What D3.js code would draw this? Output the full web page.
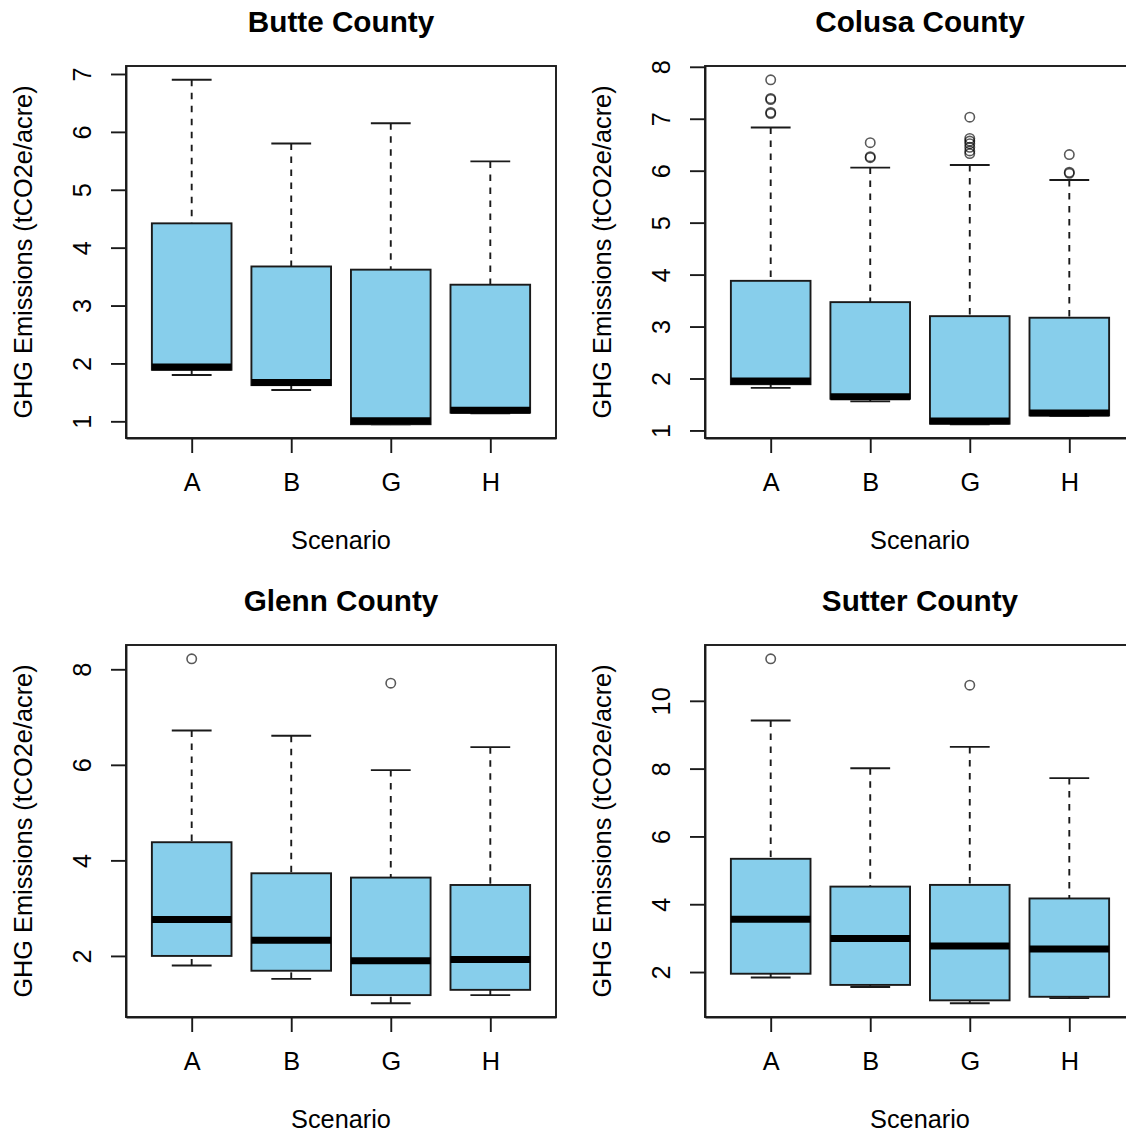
<!DOCTYPE html>
<html>
<head>
<meta charset="utf-8">
<script src="https://cdn.jsdelivr.net/npm/d3@7"></script>
<style>
  html, body { margin: 0; padding: 0; background: #fff; overflow: hidden; }
  svg { display: block; }
  text { font-family: "Liberation Sans", Arial, Helvetica, sans-serif; fill: #000; }
</style>
</head>
<body>
<svg id="chart" width="1126" height="1135"></svg>
<script>
// ---- data -------------------------------------------------------------
const scenarios = ["A", "B", "G", "H"];
const countyNames = ["Butte County", "Colusa County", "Glenn County", "Sutter County"];

// Box statistics per scenario: [lower whisker, lower hinge, median, upper hinge, upper whisker]
const butteStats = [
  [1.80, 1.89, 1.94, 4.42, 6.90],
  [1.54, 1.625, 1.67, 3.675, 5.80],
  [0.95, 0.95, 1.01, 3.62, 6.15],
  [1.14, 1.15, 1.19, 3.36, 5.49]
];
const butteOutliers = [[], [], [], []];
const butteTicks = [1, 2, 3, 4, 5, 6, 7];

const colusaStats = [
  [1.82, 1.89, 1.95, 3.88, 6.83],
  [1.56, 1.61, 1.65, 3.47, 6.06],
  [1.12, 1.13, 1.18, 3.20, 6.11],
  [1.28, 1.29, 1.335, 3.17, 5.82]
];
const colusaOutliers = [
  [7.75, 7.39, 7.37, 7.12, 7.10],
  [6.54, 6.27, 6.25],
  [7.03, 6.62, 6.57, 6.52, 6.45, 6.38, 6.33],
  [6.31, 5.97, 5.95]
];
const colusaTicks = [1, 2, 3, 4, 5, 6, 7, 8];

const glennStats = [
  [1.80, 2.00, 2.76, 4.38, 6.72],
  [1.52, 1.69, 2.33, 3.73, 6.61],
  [1.01, 1.18, 1.90, 3.64, 5.89],
  [1.18, 1.29, 1.925, 3.485, 6.37]
];
const glennOutliers = [[8.22], [], [7.71], []];
const glennTicks = [2, 4, 6, 8];

const sutterStats = [
  [1.84, 1.95, 3.56, 5.34, 9.42],
  [1.56, 1.62, 2.99, 4.52, 8.01],
  [1.08, 1.165, 2.77, 4.57, 8.64],
  [1.23, 1.27, 2.68, 4.17, 7.72]
];
const sutterOutliers = [[11.24], [], [10.46], []];
const sutterTicks = [2, 4, 6, 8, 10];

const yLabel = "GHG Emissions (tCO2e/acre)";
const xLabel = "Scenario";

const panels = [
  { title: countyNames[0], stats: butteStats,  outliers: butteOutliers,  ticks: butteTicks },
  { title: countyNames[1], stats: colusaStats, outliers: colusaOutliers, ticks: colusaTicks },
  { title: countyNames[2], stats: glennStats,  outliers: glennOutliers,  ticks: glennTicks },
  { title: countyNames[3], stats: sutterStats, outliers: sutterOutliers, ticks: sutterTicks }
];

// ---- layout -----------------------------------------------------------
const cellW = 579, cellH = 579;
const plot = { left: 126, right: 556, top: 66, bottom: 438 };
const cx = (plot.left + plot.right) / 2;
const cy = (plot.top + plot.bottom) / 2;
const ink = "#1a1a1a";
const boxFill = "#87CEEB";
const baseFont = 25.3;
const lineW = 1.9;

const svg = d3.select("#chart");

panels.forEach((p, i) => {
  const col = i % 2, row = Math.floor(i / 2);
  const g = svg.append("g").attr("transform", `translate(${col * cellW},${row * cellH})`);

  // x: one slot per scenario, padded like a base-graphics boxplot
  const x = d3.scalePoint().domain(scenarios).range([plot.left, plot.right]).padding(0.66);
  const step = x.step();
  const boxW = 0.8 * step;
  const capW = 0.4 * step;

  // y: data range (boxes + outliers) stretched by 4% each side
  const allVals = p.stats.flat().concat(p.outliers.flat());
  const lo = d3.min(allVals), hi = d3.max(allVals);
  const pad = 0.04 * (hi - lo);
  const y = d3.scaleLinear().domain([lo - pad, hi + pad]).range([plot.bottom, plot.top]);

  // boxes
  const boxes = g.append("g");
  scenarios.forEach((s, j) => {
    const [lw, q1, med, q3, uw] = p.stats[j];
    const xc = x(s);
    const bg = boxes.append("g");

    // dashed whiskers, drawn from the whisker end toward the hinge
    bg.append("line")
      .attr("x1", xc).attr("x2", xc).attr("y1", y(uw)).attr("y2", y(q3))
      .attr("stroke", ink).attr("stroke-width", lineW).attr("stroke-dasharray", "6.5,6.5");
    bg.append("line")
      .attr("x1", xc).attr("x2", xc).attr("y1", y(lw)).attr("y2", y(q1))
      .attr("stroke", ink).attr("stroke-width", lineW).attr("stroke-dasharray", "6.5,6.5");

    // staples
    [lw, uw].forEach(v => {
      bg.append("line")
        .attr("x1", xc - capW / 2).attr("x2", xc + capW / 2)
        .attr("y1", y(v)).attr("y2", y(v))
        .attr("stroke", ink).attr("stroke-width", lineW);
    });

    // interquartile box
    bg.append("rect")
      .attr("x", xc - boxW / 2).attr("width", boxW)
      .attr("y", y(q3)).attr("height", y(q1) - y(q3))
      .attr("fill", boxFill).attr("stroke", ink).attr("stroke-width", lineW);

    // median
    bg.append("line")
      .attr("x1", xc - boxW / 2).attr("x2", xc + boxW / 2)
      .attr("y1", y(med)).attr("y2", y(med))
      .attr("stroke", "#000").attr("stroke-width", 7);

    // outliers
    bg.selectAll("circle").data(p.outliers[j]).join("circle")
      .attr("cx", xc).attr("cy", d => y(d)).attr("r", 4.7)
      .attr("fill", "none").attr("stroke", "#000")
      .attr("stroke-opacity", 0.65).attr("stroke-width", 1.6);
  });

  // plot frame
  g.append("rect")
    .attr("x", plot.left).attr("y", plot.top)
    .attr("width", plot.right - plot.left).attr("height", plot.bottom - plot.top)
    .attr("fill", "none").attr("stroke", ink).attr("stroke-width", lineW);

  // y axis
  const yAxis = d3.axisLeft(y).tickValues(p.ticks).tickSize(15).tickSizeOuter(0).tickFormat(d3.format("d"));
  const ya = g.append("g").attr("transform", `translate(${plot.left},0)`).call(yAxis);
  ya.select(".domain").attr("stroke", ink).attr("stroke-width", lineW);
  ya.selectAll(".tick line").attr("stroke", ink).attr("stroke-width", lineW);
  ya.selectAll(".tick text")
    .attr("x", null).attr("dy", null)
    .attr("transform", "translate(-35.5,0) rotate(-90)")
    .attr("text-anchor", "middle")
    .attr("fill", "#000")
    .style("font-size", baseFont + "px")
    .style("font-family", '"Liberation Sans", Arial, sans-serif');

  // x axis
  const xAxis = d3.axisBottom(x).tickSize(15).tickSizeOuter(0);
  const xa = g.append("g").attr("transform", `translate(0,${plot.bottom})`).call(xAxis);
  xa.select(".domain").attr("stroke", ink).attr("stroke-width", lineW);
  xa.selectAll(".tick line").attr("stroke", ink).attr("stroke-width", lineW);
  xa.selectAll(".tick text")
    .attr("y", 53).attr("dy", null)
    .attr("fill", "#000")
    .style("font-size", baseFont + "px")
    .style("font-family", '"Liberation Sans", Arial, sans-serif');

  // titles
  g.append("text")
    .attr("x", cx).attr("y", 32)
    .attr("text-anchor", "middle")
    .style("font-size", "29.7px").style("font-weight", "bold")
    .text(p.title);

  g.append("text")
    .attr("x", cx).attr("y", 549)
    .attr("text-anchor", "middle")
    .style("font-size", baseFont + "px")
    .text(xLabel);

  g.append("text")
    .attr("transform", `translate(32,${cy}) rotate(-90)`)
    .attr("text-anchor", "middle")
    .style("font-size", baseFont + "px")
    .text(yLabel);
});
</script>
</body>
</html>
